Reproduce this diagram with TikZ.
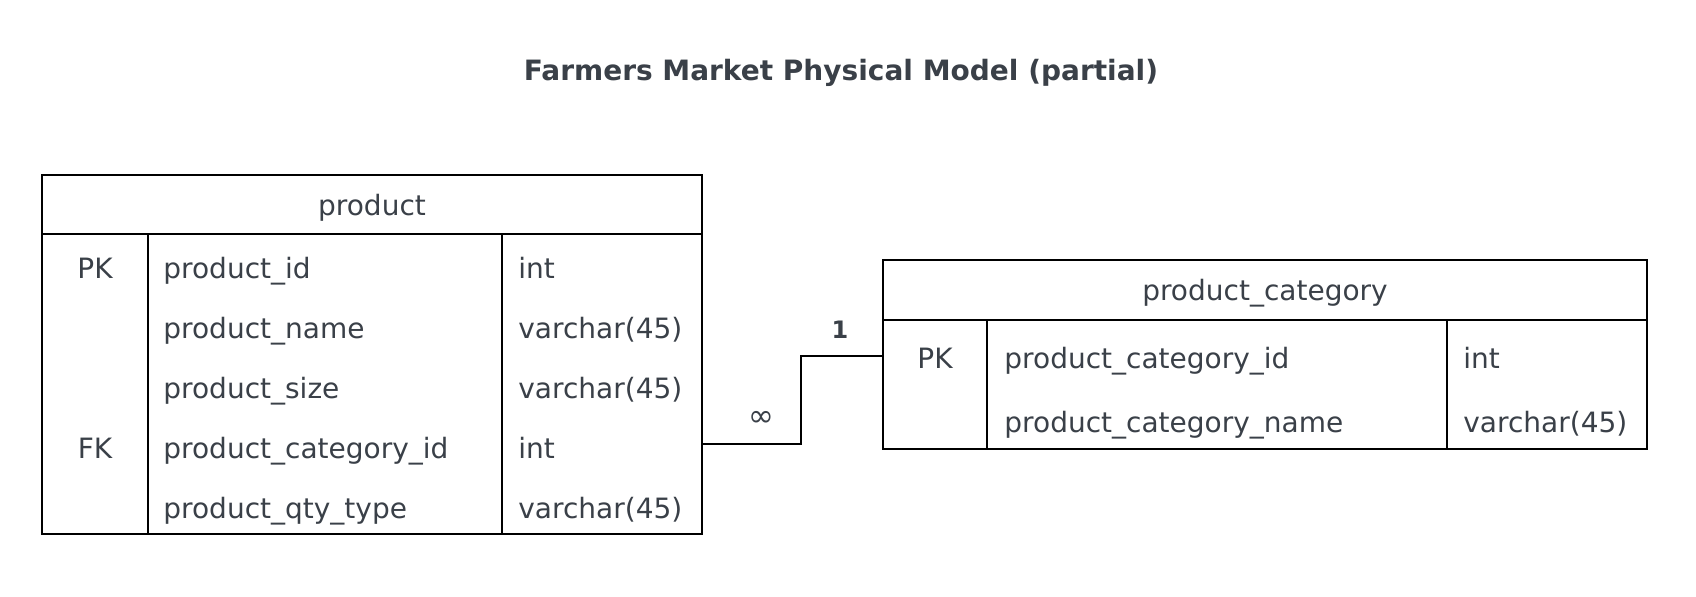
\documentclass[tikz,border=0pt]{standalone}
\usepackage{fontspec}
\setmainfont{DejaVu Sans}
\definecolor{txt}{HTML}{3A4048}
\begin{document}
\begin{tikzpicture}[x=0.5pt,y=-0.5pt,
  tbl/.style={draw=black,line width=1pt},
  cell/.style={inner sep=0pt,anchor=base west,text=txt,font=\fontsize{14}{16}\selectfont},
  keycell/.style={inner sep=0pt,anchor=base,text=txt,font=\fontsize{14}{16}\selectfont},
  head/.style={inner sep=0pt,anchor=base,text=txt,font=\fontsize{14}{16}\selectfont},
  link/.style={draw=black,line width=1pt},
  card/.style={inner sep=0pt,text=txt}]
\useasboundingbox (0,0) rectangle (1696,596);
\fill[white] (0,0) rectangle (1696,596);
% title
\node[inner sep=0pt,anchor=base,text=txt,font=\fontsize{14}{16}\selectfont\bfseries] (title) at (841,80) {Farmers Market Physical Model (partial)};
% product table
\draw[tbl] (42,175) rectangle (702,534);
\draw[tbl] (42,234) -- (702,234);
\draw[tbl] (148,234) -- (148,534);
\draw[tbl] (502,234) -- (502,534);
\node[head] (ph) at (372,215.5) {product};
\node[keycell] (pk1) at (95,278) {PK};
\node[cell] (p1) at (163,278) {product\_id};
\node[cell] (t1) at (518,278) {int};
\node[cell] (p2) at (163,338) {product\_name};
\node[cell] (t2) at (518,338) {varchar(45)};
\node[cell] (p3) at (163,398) {product\_size};
\node[cell] (t3) at (518,398) {varchar(45)};
\node[keycell] (fk) at (95,458) {FK};
\node[cell] (p4) at (163,458) {product\_category\_id};
\node[cell] (t4) at (518,458) {int};
\node[cell] (p5) at (163,518) {product\_qty\_type};
\node[cell] (t5) at (518,518) {varchar(45)};
% product_category table
\draw[tbl] (883,260) rectangle (1647,449);
\draw[tbl] (883,320) -- (1647,320);
\draw[tbl] (987,320) -- (987,449);
\draw[tbl] (1447,320) -- (1447,449);
\node[head] (ch) at (1265,300) {product\_category};
\node[keycell] (cpk) at (935,368) {PK};
\node[cell] (c1) at (1004,368) {product\_category\_id};
\node[cell] (ct1) at (1463,368) {int};
\node[cell] (c2) at (1004,432) {product\_category\_name};
\node[cell] (ct2) at (1463,432) {varchar(45)};
% connector
\coordinate (from) at (702,444);
\coordinate (bend1) at (801,444);
\coordinate (bend2) at (801,356);
\coordinate (to) at (883,356);
\draw[link] (from) -- (bend1) -- (bend2) -- (to);
\node[card,font=\fontsize{15.5}{17}\selectfont] (many) at (761,419) {∞};
\node[card,font=\fontsize{12}{14}\selectfont\bfseries] (one) at (840,330) {1};
\end{tikzpicture}
\end{document}
